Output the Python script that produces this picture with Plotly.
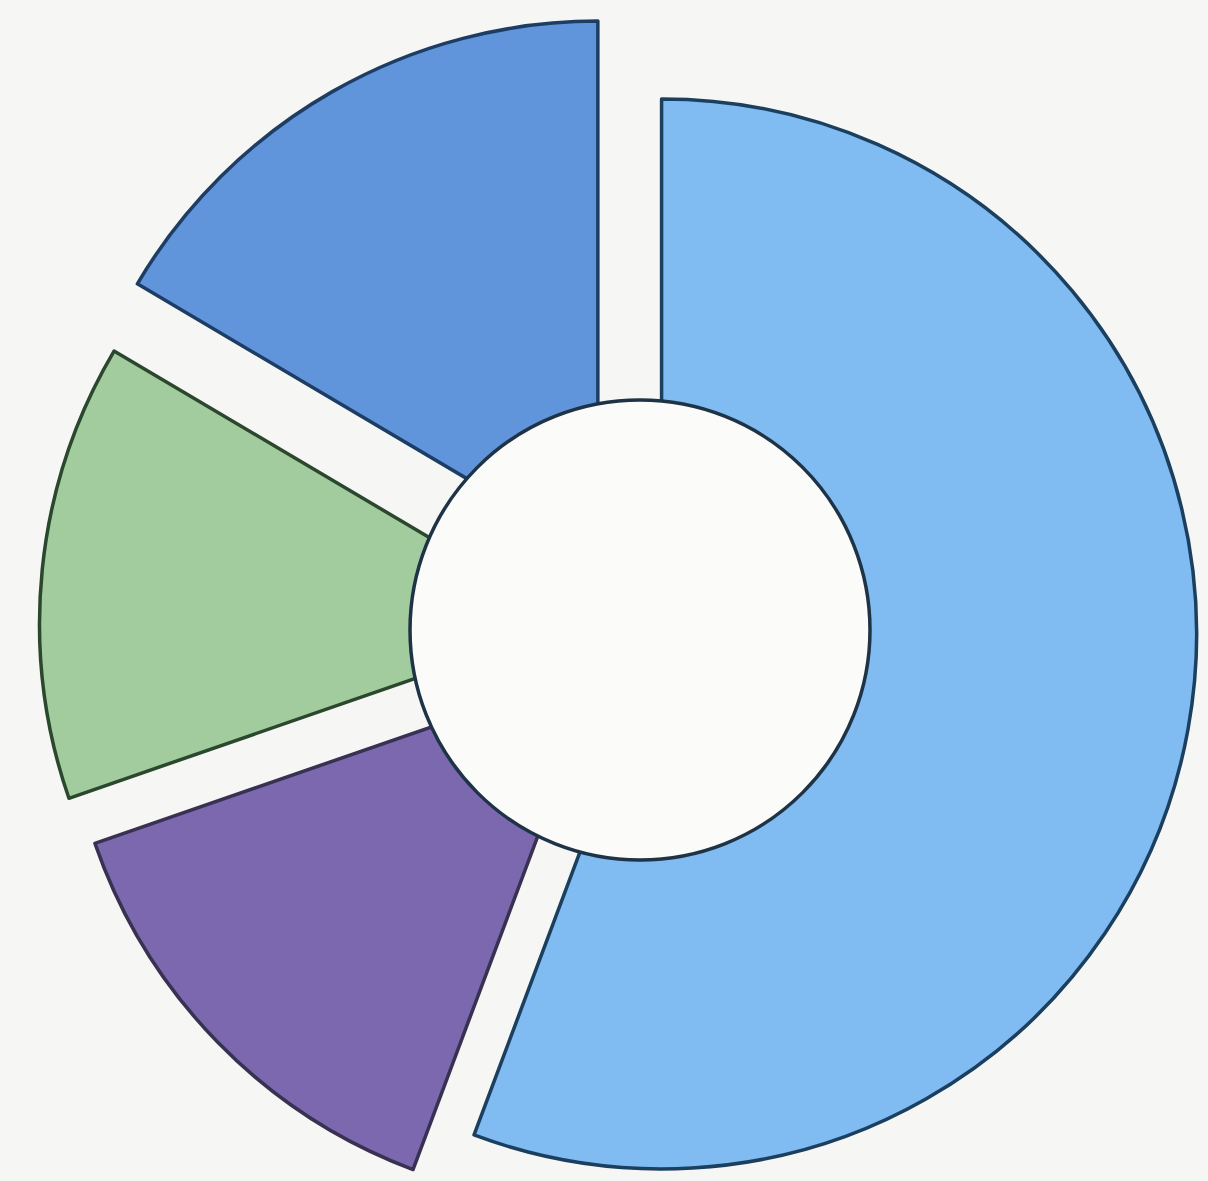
import plotly.graph_objects as go

# Slices in clockwise order starting at 12 o'clock
labels = ["Light blue", "Purple", "Green", "Dark blue"]
values = [55.7, 14.0, 13.8, 16.5]

colors = ["#80bbf1", "#7b68ae", "#a2cc9e", "#6094db"]
edge_colors = ["#1b3f5e", "#383152", "#2b472d", "#1d3d64"]
pulls = [0.041, 0.103, 0.123, 0.159]

W, H = 1280, 1260
BG = "#f6f6f4"
R_PIE = 535
D = 2 * R_PIE * (1 + max(pulls))
CX, CY = 640, 630

fig = go.Figure(
    go.Pie(
        labels=labels,
        values=values,
        sort=False,
        direction="clockwise",
        rotation=0,
        pull=pulls,
        marker=dict(colors=colors, line=dict(color=edge_colors, width=3.5)),
        textinfo="none",
        hoverinfo="skip",
        showlegend=False,
        domain=dict(x=[(CX - D / 2) / W, (CX + D / 2) / W],
                    y=[1 - (CY + D / 2) / H, 1 - (CY - D / 2) / H]),
    )
)

# white centre disc with outline (covers slice apexes)
rh = 230
fig.add_shape(
    type="circle",
    xref="paper", yref="paper",
    x0=(CX - rh) / W, x1=(CX + rh) / W,
    y0=1 - (CY + rh) / H, y1=1 - (CY - rh) / H,
    fillcolor="#fbfbfa",
    line=dict(color="#1e3346", width=3.5),
    layer="above",
)

fig.update_layout(
    width=W, height=H,
    margin=dict(l=0, r=0, t=0, b=0),
    paper_bgcolor=BG, plot_bgcolor=BG,
    showlegend=False,
)

fig.write_html(
    "out.html",
    post_script="document.body.style.margin='0';document.body.style.background='%s';"
                "document.documentElement.style.overflow='hidden';document.body.style.overflow='hidden';" % BG,
)
